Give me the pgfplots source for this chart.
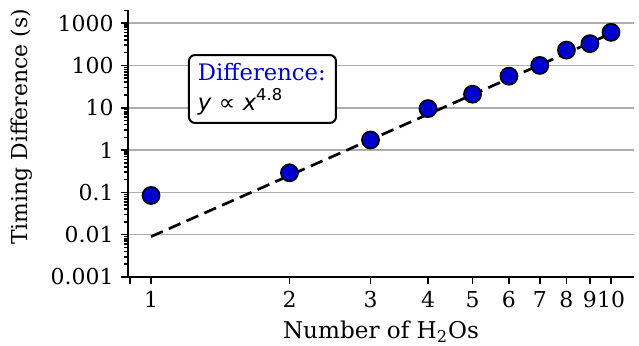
\documentclass[border=0pt]{standalone}
\usepackage{fontspec}
\setmainfont{DejaVu Serif}
\newfontfamily\dvsans{DejaVu Sans}
\usepackage{pgfplots}
\pgfplotsset{compat=1.18}
\definecolor{mblue}{RGB}{0,0,205}
\begin{document}
\fontsize{10.8}{13}\selectfont
\begin{tikzpicture}
\path[use as bounding box] (-64bp,-34.5bp) rectangle (255.5bp,138.5bp);
\begin{axis}[
  xmode=log, ymode=log,
  scale only axis, width=253bp, height=133.5bp,
  at={(0,0)}, anchor=south west,
  xmin=0.891, xmax=11.22, ymin=0.001, ymax=2040,
  axis x line*=bottom, axis y line*=left,
  axis line style={line width=1bp, -},
  tick align=outside,
  major tick length=3.5bp, minor tick length=2bp,
  every tick/.style={line width=0.8bp, black},
  xtick={0.9,1,2,3,4,5,6,7,8,9,10},
  xticklabels={,1,2,3,4,5,6,7,8,9,10},
  ytick={0.001,0.01,0.1,1,10,100,1000},
  yticklabels={0.001,0.01,0.1,1,10,100,1000},
  minor ytick={0.002,0.003,0.004,0.005,0.006,0.007,0.008,0.009,
    0.02,0.03,0.04,0.05,0.06,0.07,0.08,0.09,
    0.2,0.3,0.4,0.5,0.6,0.7,0.8,0.9,
    2,3,4,5,6,7,8,9,20,30,40,50,60,70,80,90,
    200,300,400,500,600,700,800,900,2000},
  ymajorgrids, 
  major grid style={line width=0.8bp, color=black!32},
  /pgf/number format/assume math mode=true,
  tick label style={font=\fontsize{11}{13}\selectfont},
  xlabel={Number of H\textsubscript{2}Os},
  ylabel={Timing Difference (s)},
  xlabel style={font=\fontsize{11.6}{13}\selectfont, yshift=1bp},
  ylabel style={font=\fontsize{11}{13}\selectfont, at={(ticklabel cs:0.562)}},
  ylabel shift=2bp,
  clip=false,
]
\addplot[black, line width=1.35bp, dash pattern=on 6.4bp off 3.3bp] coordinates {
  (1,0.009) (10,568)
};
\addplot[only marks, mark=*, mark size=4.3bp, mark options={fill=mblue, draw=black, line width=0.8bp}] coordinates {
  (1,0.0845) (2,0.29) (3,1.73) (4,9.55) (5,20.9) (6,55.7) (7,100) (8,230) (9,327) (10,605)
};
\node[draw=black, line width=1bp, rounded corners=3bp, fill=white, anchor=north west,
  align=left, inner xsep=4.5bp, inner ysep=4bp, text width=64.5bp, minimum height=33.8bp,
  font=\fontsize{11.4}{15}\selectfont]
  at (rel axis cs:0.1185,0.835)
  {\textcolor{mblue}{Difference:}\\{\dvsans\itshape y} {\dvsans ∝} {\dvsans\itshape x}\raisebox{0.42em}{\dvsans\fontsize{8.2}{8}\selectfont 4.8}};
\end{axis}
\end{tikzpicture}
\end{document}
